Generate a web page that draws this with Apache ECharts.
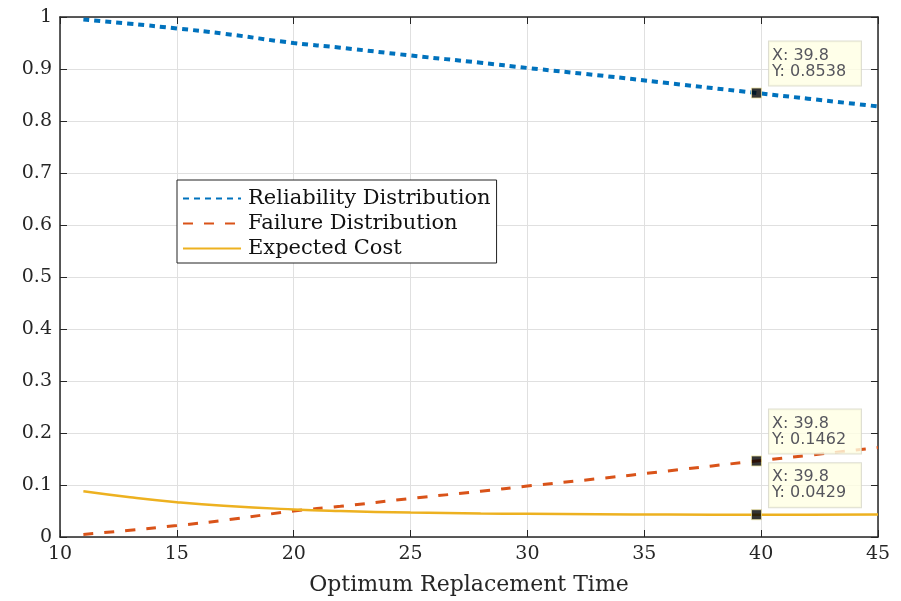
<!DOCTYPE html>
<html>
<head>
<meta charset="utf-8">
<script src="https://cdn.jsdelivr.net/npm/echarts@6/dist/echarts.min.js"></script>
<style>html,body{margin:0;padding:0;background:#fff;}#c{width:901px;height:601px;}</style>
</head>
<body>
<div id="c"></div>
<script>
var times       = [11, 13, 15, 17, 20, 22, 25, 28, 30, 33, 36, 39.8, 42, 45];
var reliability = [0.995, 0.987, 0.978, 0.968, 0.950, 0.941, 0.926, 0.912, 0.902, 0.888, 0.873, 0.8538, 0.843, 0.828];
var failure     = [0.005, 0.013, 0.022, 0.032, 0.050, 0.059, 0.074, 0.088, 0.098, 0.112, 0.127, 0.1462, 0.157, 0.172];
var cost        = [0.088, 0.0765, 0.067, 0.060, 0.053, 0.050, 0.047, 0.0452, 0.0445, 0.0437, 0.0432, 0.0429, 0.0430, 0.0433];
var seriesNames = ['Reliability Distribution', 'Failure Distribution', 'Expected Cost'];
var tipIndex = 11;
var xTicks = {min: 10, max: 45, interval: 5};
var yTicks = {min: 0, max: 1, interval: 0.1};

var serif = '"DejaVu Serif", "Liberation Serif", serif';
var axisColor = '#262626';

function pairs(ys) { return times.map(function (t, i) { return [t, ys[i]]; }); }

function tip(ys) {
  return {
    type: 'scatter',
    data: [[times[tipIndex], ys[tipIndex]]],
    symbol: 'rect',
    symbolSize: 10,
    itemStyle: {color: '#000', borderColor: '#e8e0a0', borderWidth: 1},
    z: 10,
    silent: true,
    label: {
      show: true,
      position: [18, -46],
      formatter: function (p) { return 'X: ' + p.value[0] + '\nY: ' + p.value[1]; },
      backgroundColor: '#ffffe4',
      borderColor: '#d6d6c6',
      borderWidth: 1,
      padding: [6, 10, 6, 3],
      width: 79,
      fontFamily: '"DejaVu Sans", "Liberation Sans", sans-serif',
      fontSize: 16,
      lineHeight: 16,
      color: '#2a2a3a'
    }
  };
}

var chart = echarts.init(document.getElementById('c'), null, {renderer: 'canvas'});
chart.setOption({
  animation: false,
  backgroundColor: '#fff',
  grid: {left: 60, right: 23, top: 17, bottom: 63, containLabel: false},
  legend: {
    data: seriesNames,
    orient: 'vertical',
    left: 177,
    top: 180,
    backgroundColor: '#fff',
    borderColor: '#222',
    borderWidth: 1,
    padding: [8, 6, 4, 5],
    itemWidth: 58,
    itemHeight: 18,
    itemGap: 4,
    itemStyle: {opacity: 0},
    textStyle: {fontFamily: serif, fontSize: 21, lineHeight: 18, color: '#111', padding: [0, 0, 0, 2]}
  },
  xAxis: [{
    type: 'value',
    min: xTicks.min, max: xTicks.max, interval: xTicks.interval,
    name: 'Optimum Replacement Time',
    nameLocation: 'middle',
    nameGap: 37,
    nameTextStyle: {fontFamily: serif, fontSize: 22, color: axisColor},
    axisLine: {show: true, onZero: false, lineStyle: {color: axisColor, width: 1.5}},
    axisTick: {show: true, inside: true, length: 7, lineStyle: {color: axisColor}},
    axisLabel: {fontFamily: serif, fontSize: 19, color: axisColor, margin: 8},
    splitLine: {show: true, lineStyle: {color: '#e0e0e0', width: 1}}
  }, {
    type: 'value', position: 'top',
    min: xTicks.min, max: xTicks.max, interval: xTicks.interval,
    axisLine: {show: true, onZero: false, lineStyle: {color: axisColor, width: 1.5}},
    axisTick: {show: true, inside: true, length: 7, lineStyle: {color: axisColor}},
    axisLabel: {show: false},
    splitLine: {show: false}
  }],
  yAxis: [{
    type: 'value',
    min: yTicks.min, max: yTicks.max, interval: yTicks.interval,
    axisLine: {show: true, onZero: false, lineStyle: {color: axisColor, width: 1.5}},
    axisTick: {show: true, inside: true, length: 7, lineStyle: {color: axisColor}},
    axisLabel: {fontFamily: serif, fontSize: 19, color: axisColor, margin: 8},
    splitLine: {show: true, lineStyle: {color: '#e0e0e0', width: 1}}
  }, {
    type: 'value', position: 'right',
    min: yTicks.min, max: yTicks.max, interval: yTicks.interval,
    axisLine: {show: true, onZero: false, lineStyle: {color: axisColor, width: 1.5}},
    axisTick: {show: true, inside: true, length: 7, lineStyle: {color: axisColor}},
    axisLabel: {show: false},
    splitLine: {show: false}
  }],
  series: [{
    name: seriesNames[0], type: 'line', data: pairs(reliability), smooth: true,
    symbol: 'none', color: '#0072BD',
    lineStyle: {color: '#0072BD', width: 4, type: [6, 5]}
  }, {
    name: seriesNames[1], type: 'line', data: pairs(failure), smooth: true,
    symbol: 'none', color: '#D95319',
    lineStyle: {color: '#D95319', width: 3, type: [10, 11]}
  }, {
    name: seriesNames[2], type: 'line', data: pairs(cost), smooth: true,
    symbol: 'none', color: '#EDB120',
    lineStyle: {color: '#EDB120', width: 2.5}
  }, tip(reliability), tip(failure), tip(cost)]
});
</script>
</body>
</html>
